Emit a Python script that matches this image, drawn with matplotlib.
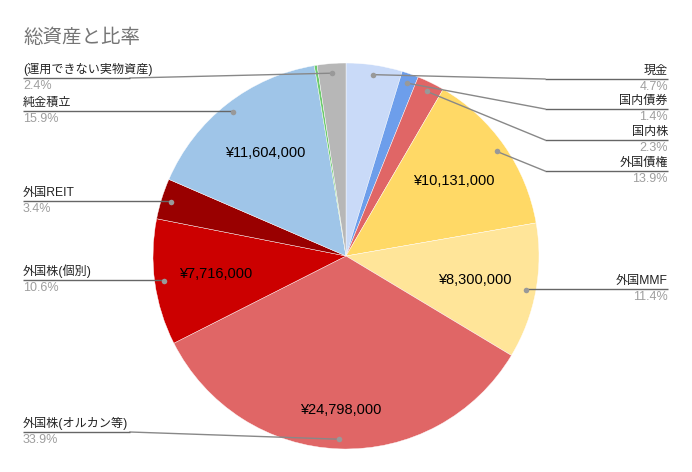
import numpy as np
import matplotlib
matplotlib.use("Agg")
import matplotlib.pyplot as plt

plt.rcParams['font.family'] = ['Liberation Sans', 'Noto Sans CJK JP', 'DejaVu Sans']

# ---- data ----
categories = ['現金', '国内債券', '国内株', '外国債権', '外国MMF', '外国株(オルカン等)',
              '外国株(個別)', '外国REIT', '純金積立', 'その他', '(運用できない実物資産)']
values = [3440000, 1020000, 1680000, 10131000, 8300000, 24798000,
          7716000, 2490000, 11604000, 170000, 1750000]
colors = ['#c9daf8', '#6d9eeb', '#e06666', '#ffd966', '#ffe599', '#e06666',
          '#cc0000', '#990000', '#9fc5e8', '#6ccb6c', '#b7b7b7']
show_value = [False, False, False, True, True, True, True, False, True, False, False]
show_label = [True, True, True, True, True, True, True, True, True, False, True]

# ---- layout (pixel coordinates, y from top) ----
W, H = 692, 472
CX, CY, R = 346, 256, 193
label_line_y = {'現金': 79, '国内債券': 109, '国内株': 140, '外国債権': 171, '外国MMF': 289,
                '(運用できない実物資産)': 78, '純金積立': 111, '外国REIT': 201,
                '外国株(個別)': 280, '外国株(オルカン等)': 432}
value_frac = {'外国株(オルカン等)': 0.80}

fig = plt.figure(figsize=(W / 100, H / 100), dpi=100)
ax = fig.add_axes([0, 0, 1, 1])

wedges, _ = ax.pie(values, colors=colors, startangle=90, counterclock=False,
                   center=(CX, H - CY), radius=R,
                   wedgeprops=dict(edgecolor='white', linewidth=0.3))
ax.set_xlim(0, W)
ax.set_ylim(0, H)
ax.set_aspect('equal', adjustable='box')
ax.axis('off')

total = sum(values)
for w, cat, v, sv, sl in zip(wedges, categories, values, show_value, show_label):
    mid = np.deg2rad((w.theta1 + w.theta2) / 2)
    c, s = np.cos(mid), np.sin(mid)
    if sv:
        f = value_frac.get(cat, 0.68)
        ax.text(CX + f * R * c, H - CY + f * R * s, f'¥{v:,.0f}',
                ha='center', va='center', fontsize=10.5, color='#000000')
    if sl:
        dx, dy = CX + 0.95 * R * c, H - CY + 0.95 * R * s
        ly = H - label_line_y[cat]
        right = c > 0
        if right:
            ex, end = 545, 668
        else:
            ex, end = 130, 23
        if abs(dy - ly) < 2:
            ax.plot([dx, end], [ly, ly], color='#666666', lw=1, solid_capstyle='butt', zorder=3)
        else:
            ax.plot([dx, ex], [dy, ly], color='#888888', lw=1, zorder=3)
            ax.plot([ex, end], [ly, ly], color='#666666', lw=1, solid_capstyle='butt', zorder=3)
        ax.plot([dx], [dy], 'o', color='#999999', ms=4, mec='none', zorder=4)
        ha = 'right' if right else 'left'
        ax.text(end, ly + 2, cat, ha=ha, va='bottom', fontsize=8.7, color='#222222')
        ax.text(end, ly - 2, f'{v / total * 100:.1f}%', ha=ha, va='top', fontsize=9,
                color='#9e9e9e')

ax.text(23, H - 27, '総資産と比率', ha='left', va='top', fontsize=14, color='#757575',
        family=['Noto Sans CJK JP', 'DejaVu Sans'])

fig.savefig('out.png', dpi=100)
